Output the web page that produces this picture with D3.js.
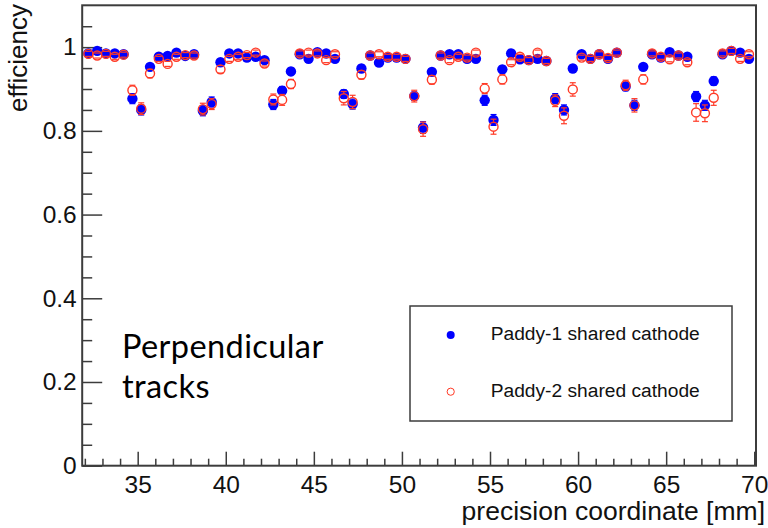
<!DOCTYPE html>
<html>
<head>
<meta charset="utf-8">
<script src="https://cdn.jsdelivr.net/npm/d3@7"></script>
<style>
  body { margin: 0; background: #fff; }
  svg { display: block; font-family: 'Liberation Sans', Arial, sans-serif; }
</style>
</head>
<body>
<div id="viz"></div>
<script>
'use strict';

// strip positions [mm]
const xPos = [
  32.2, 32.7, 33.2, 33.7, 34.2, 34.7, 35.2, 35.7, 36.2, 36.7,
  37.2, 37.7, 38.2, 38.7, 39.2, 39.7, 40.2, 40.7, 41.2, 41.7,
  42.2, 42.7, 43.2, 43.7, 44.2, 44.7, 45.2, 45.7, 46.2, 46.7,
  47.2, 47.7, 48.2, 48.7, 49.2, 49.7, 50.2, 50.7, 51.2, 51.7,
  52.2, 52.7, 53.2, 53.7, 54.2, 54.7, 55.2, 55.7, 56.2, 56.7,
  57.2, 57.7, 58.2, 58.7, 59.2, 59.7, 60.2, 60.7, 61.2, 61.7,
  62.2, 62.7, 63.2, 63.7, 64.2, 64.7, 65.2, 65.7, 66.2, 66.7,
  67.2, 67.7, 68.2, 68.7, 69.2, 69.7
];

// Paddy-1 shared cathode
const paddy1 = [
  0.985, 0.991, 0.985, 0.985, 0.983, 0.877, 0.850, 0.953, 0.977, 0.979,
  0.987, 0.979, 0.983, 0.848, 0.869, 0.964, 0.985, 0.985, 0.975, 0.977,
  0.969, 0.863, 0.896, 0.942, 0.983, 0.972, 0.988, 0.985, 0.972, 0.888,
  0.864, 0.949, 0.980, 0.963, 0.975, 0.975, 0.972, 0.883, 0.808, 0.941,
  0.980, 0.983, 0.983, 0.972, 0.972, 0.873, 0.826, 0.947, 0.985, 0.971,
  0.969, 0.972, 0.967, 0.877, 0.850, 0.949, 0.983, 0.972, 0.983, 0.972,
  0.987, 0.906, 0.861, 0.953, 0.983, 0.975, 0.988, 0.980, 0.977, 0.882,
  0.861, 0.919, 0.983, 0.991, 0.987, 0.972
];
const paddy1Err = [
  0.005, 0.005, 0.005, 0.005, 0.005, 0.012, 0.012, 0.007, 0.005, 0.005,
  0.005, 0.005, 0.005, 0.012, 0.012, 0.006, 0.005, 0.005, 0.005, 0.005,
  0.005, 0.012, 0.010, 0.008, 0.005, 0.005, 0.005, 0.005, 0.005, 0.010,
  0.012, 0.008, 0.005, 0.006, 0.005, 0.005, 0.005, 0.010, 0.014, 0.008,
  0.005, 0.005, 0.005, 0.005, 0.005, 0.012, 0.013, 0.008, 0.005, 0.005,
  0.005, 0.005, 0.005, 0.012, 0.012, 0.008, 0.005, 0.005, 0.005, 0.005,
  0.005, 0.010, 0.012, 0.007, 0.005, 0.005, 0.005, 0.005, 0.005, 0.012,
  0.012, 0.010, 0.005, 0.005, 0.005, 0.005
];

// Paddy-2 shared cathode
const paddy2 = [
  0.984, 0.980, 0.984, 0.977, 0.982, 0.897, 0.853, 0.937, 0.972, 0.960,
  0.977, 0.981, 0.980, 0.852, 0.864, 0.947, 0.972, 0.977, 0.981, 0.987,
  0.961, 0.875, 0.874, 0.912, 0.985, 0.987, 0.985, 0.969, 0.983, 0.878,
  0.869, 0.934, 0.980, 0.983, 0.977, 0.977, 0.972, 0.883, 0.804, 0.922,
  0.980, 0.969, 0.977, 0.975, 0.987, 0.901, 0.810, 0.923, 0.964, 0.977,
  0.969, 0.987, 0.967, 0.872, 0.836, 0.899, 0.975, 0.972, 0.983, 0.974,
  0.987, 0.909, 0.861, 0.923, 0.985, 0.977, 0.971, 0.980, 0.964, 0.844,
  0.842, 0.879, 0.985, 0.991, 0.972, 0.983
];
const paddy2Err = [
  0.006, 0.006, 0.006, 0.006, 0.006, 0.012, 0.014, 0.010, 0.006, 0.006,
  0.006, 0.006, 0.006, 0.014, 0.013, 0.009, 0.006, 0.006, 0.006, 0.006,
  0.006, 0.013, 0.013, 0.011, 0.006, 0.006, 0.006, 0.006, 0.006, 0.016,
  0.016, 0.010, 0.006, 0.006, 0.006, 0.006, 0.006, 0.014, 0.017, 0.010,
  0.006, 0.006, 0.006, 0.006, 0.006, 0.012, 0.018, 0.011, 0.006, 0.006,
  0.006, 0.006, 0.006, 0.014, 0.019, 0.016, 0.006, 0.006, 0.006, 0.006,
  0.006, 0.012, 0.016, 0.011, 0.006, 0.006, 0.006, 0.006, 0.006, 0.021,
  0.020, 0.018, 0.006, 0.006, 0.006, 0.006
];

const xMajor = [35, 40, 45, 50, 55, 60, 65, 70];
const xMinor = [32, 33, 34, 36, 37, 38, 39, 41, 42, 43, 44, 46, 47, 48, 49,
  51, 52, 53, 54, 56, 57, 58, 59, 61, 62, 63, 64, 66, 67, 68, 69];
const yMajor = [0, 0.2, 0.4, 0.6, 0.8, 1];
const yMinor = [0.05, 0.1, 0.15, 0.25, 0.3, 0.35, 0.45, 0.5, 0.55, 0.65, 0.7,
  0.75, 0.85, 0.9, 0.95, 1.05];

const seriesNames = ['Paddy-1 shared cathode', 'Paddy-2 shared cathode'];
const xTitle = 'precision coordinate [mm]';
const yTitle = 'efficiency';
const note = ['Perpendicular', 'tracks'];

const BLUE = '#0000ff';
const RED = '#ff3a26';
const AXIS = '#3c3c3c';

const W = 768, H = 528;
const plot = {left: 82.2, right: 756, top: 5.3, bottom: 465.7};

const svg = d3.select('#viz')
  .append('svg')
    .attr('width', W)
    .attr('height', H);

svg.append('rect')
  .attr('width', W)
  .attr('height', H)
  .attr('fill', '#fff');

const x = d3.scaleLinear()
  .domain([31.85, 70.1])
  .range([plot.left, plot.right]);

const y = d3.scaleLinear()
  .domain([0, 1.1])
  .range([plot.bottom, plot.top]);

// minor ticks first, then majors with labels
svg.append('g')
  .attr('transform', `translate(0,${plot.bottom})`)
  .call(d3.axisBottom(x).tickValues(xMinor).tickFormat('')
    .tickSizeInner(-7).tickSizeOuter(0));

svg.append('g')
  .attr('transform', `translate(0,${plot.bottom})`)
  .call(d3.axisBottom(x).tickValues(xMajor).tickFormat(d3.format('d'))
    .tickSizeInner(-14).tickSizeOuter(0).tickPadding(9.5));

svg.append('g')
  .attr('transform', `translate(${plot.left},0)`)
  .call(d3.axisLeft(y).tickValues(yMinor).tickFormat('')
    .tickSizeInner(-10).tickSizeOuter(0));

svg.append('g')
  .attr('transform', `translate(${plot.left},0)`)
  .call(d3.axisLeft(y).tickValues(yMajor).tickFormat(d => String(d))
    .tickSizeInner(-20).tickSizeOuter(0).tickPadding(5.5));

svg.selectAll('.domain').remove();
svg.selectAll('.tick line')
  .attr('stroke', AXIS)
  .attr('stroke-width', 1.5);
svg.selectAll('.tick text')
  .attr('fill', '#111')
  .style('font-size', '24.5px')
  .style('font-family', "'Liberation Sans', Arial, sans-serif");

// frame
svg.append('rect')
  .attr('x', plot.left)
  .attr('y', plot.top)
  .attr('width', plot.right - plot.left)
  .attr('height', plot.bottom - plot.top)
  .attr('fill', 'none')
  .attr('stroke', AXIS)
  .attr('stroke-width', 2);

// axis titles
svg.append('text')
  .attr('x', 765)
  .attr('y', 520)
  .attr('text-anchor', 'end')
  .attr('fill', '#111')
  .style('font-size', '26.5px')
  .text(xTitle);

svg.append('text')
  .attr('transform', 'translate(27,4) rotate(-90)')
  .attr('text-anchor', 'end')
  .attr('fill', '#111')
  .style('font-size', '26px')
  .text(yTitle);

// points with error bars
const R = 5;

function drawSeries(vals, errs, color, filled) {
  const g = svg.append('g');
  const pts = vals.map((v, i) => ({x: xPos[i], v, e: errs[i]}));

  g.selectAll('g.pt')
    .data(pts)
    .join('g')
      .attr('class', 'pt')
      .each(function(d) {
        const sel = d3.select(this);
        const cx = x(d.x);
        const cy = y(d.v);
        const yHi = y(d.v + d.e);
        const yLo = y(d.v - d.e);

        if (yHi < cy - R)
          sel.append('line')
            .attr('x1', cx).attr('x2', cx)
            .attr('y1', yHi).attr('y2', cy - R);
        if (yLo > cy + R)
          sel.append('line')
            .attr('x1', cx).attr('x2', cx)
            .attr('y1', cy + R).attr('y2', yLo);

        sel.append('line')
          .attr('x1', cx - 3).attr('x2', cx + 3)
          .attr('y1', yHi).attr('y2', yHi);
        sel.append('line')
          .attr('x1', cx - 3).attr('x2', cx + 3)
          .attr('y1', yLo).attr('y2', yLo);

        sel.selectAll('line')
          .attr('stroke', color)
          .attr('stroke-width', 1.2);
      });

  g.selectAll('circle')
    .data(pts)
    .join('circle')
      .attr('cx', d => x(d.x))
      .attr('cy', d => y(d.v))
      .attr('r', filled ? R + 0.2 : R - 0.5)
      .attr('fill', filled ? color : 'none')
      .attr('stroke', filled ? 'none' : color)
      .attr('stroke-width', 1.4);
}

drawSeries(paddy1, paddy1Err, BLUE, true);
drawSeries(paddy2, paddy2Err, RED, false);

// legend
const leg = svg.append('g');

leg.append('rect')
  .attr('x', 410)
  .attr('y', 306)
  .attr('width', 322)
  .attr('height', 115)
  .attr('fill', '#fff')
  .attr('stroke', AXIS)
  .attr('stroke-width', 1.5);

leg.append('circle')
  .attr('cx', 450.7)
  .attr('cy', 335)
  .attr('r', 4)
  .attr('fill', BLUE);

leg.append('circle')
  .attr('cx', 450.7)
  .attr('cy', 391.7)
  .attr('r', 3.6)
  .attr('fill', 'none')
  .attr('stroke', RED)
  .attr('stroke-width', 1);

leg.selectAll('text')
  .data(seriesNames)
  .join('text')
    .attr('x', 490.7)
    .attr('y', (d, i) => i === 0 ? 339.5 : 396.5)
    .attr('fill', '#111')
    .style('font-size', '19.2px')
    .text(d => d);

// annotation
svg.append('g')
  .selectAll('text')
  .data(note)
  .join('text')
    .attr('x', 122)
    .attr('y', (d, i) => 358 + i * 39.5)
    .attr('fill', '#000')
    .style('font-family', "Lato, 'Open Sans', sans-serif")
    .style('font-size', '32.5px')
    .style('letter-spacing', '0.4px')
    .text(d => d);
</script>
</body>
</html>
